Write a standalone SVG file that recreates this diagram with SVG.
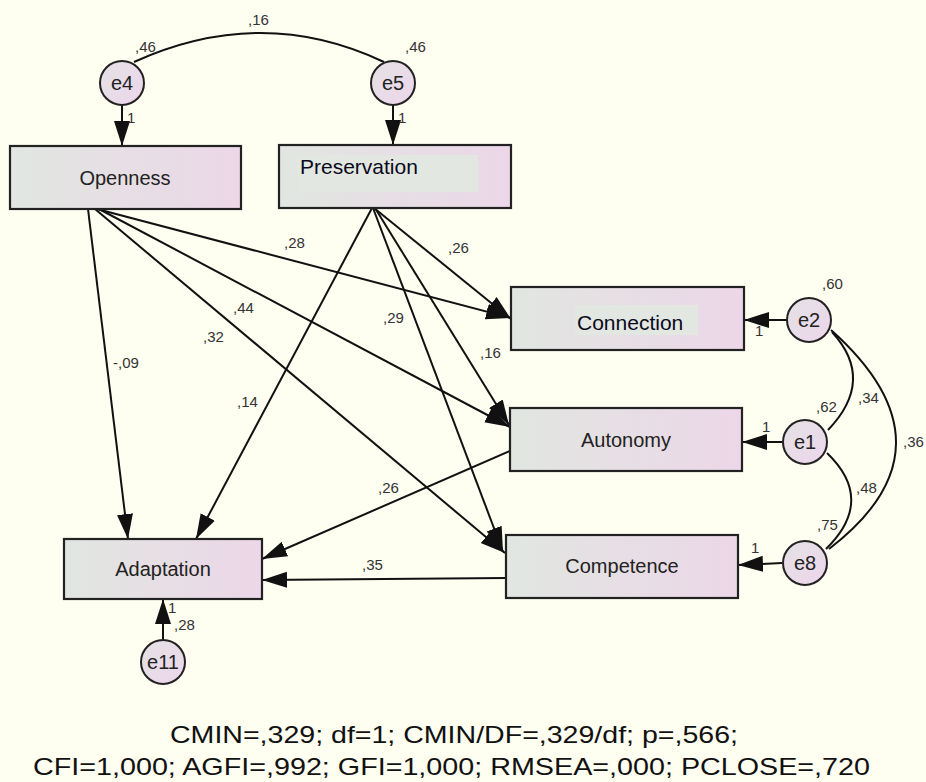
<svg xmlns="http://www.w3.org/2000/svg" width="926" height="782" viewBox="0 0 926 782">
<defs>
<linearGradient id="gBox" x1="0" y1="0" x2="1" y2="0">
<stop offset="0" stop-color="#E1E6E1"/>
<stop offset="1" stop-color="#ECD7E8"/>
</linearGradient>
<linearGradient id="gCirc" x1="0" y1="0" x2="1" y2="1">
<stop offset="0" stop-color="#E4E2E4"/>
<stop offset="1" stop-color="#EDD6EC"/>
</linearGradient>
<marker id="arr" markerUnits="userSpaceOnUse" markerWidth="26" markerHeight="18" refX="25" refY="9" orient="auto">
<path d="M0,1 L25,9 L0,17 z" fill="#111"/>
</marker>
</defs>
<style>
.box{fill:url(#gBox);stroke:#222;stroke-width:2.2}
.circ{fill:url(#gCirc);stroke:#222;stroke-width:2}
.lbl{font-family:"Liberation Sans",Arial,sans-serif;font-size:20px;fill:#222}
.dark{font-family:"Liberation Sans",Arial,sans-serif;font-size:21px;fill:#0a0a20}
.num{font-family:"Liberation Sans",Arial,sans-serif;font-size:15px;fill:#333}
.fit{font-family:"Liberation Sans",Arial,sans-serif;font-size:24px;fill:#111}
.ln{fill:none;stroke:#111;stroke-width:2}
.ar{fill:none;stroke:#111;stroke-width:2;marker-end:url(#arr)}
</style>
<rect x="0" y="0" width="926" height="782" fill="#FEFEF1"/>

<g id="connectors">
<path class="ln" d="M134,62 Q262,4 384,62"/>
<path class="ln" d="M832,332 Q876,380 828,430"/>
<path class="ln" d="M827,453 Q876,500 826,549"/>
<path class="ln" d="M831,330 Q962,447 829,549"/>
<path class="ar" d="M122,105 L122,146"/>
<path class="ar" d="M393,105 L393,145"/>
<path class="ar" d="M88,209 L128,539"/>
<path class="ar" d="M97,209 L511,318"/>
<path class="ar" d="M99,209 L510,427"/>
<path class="ar" d="M95,209 L505,553"/>
<path class="ar" d="M372,208 L196,539"/>
<path class="ar" d="M374,208 L511,319"/>
<path class="ar" d="M375,208 L509,425"/>
<path class="ar" d="M373,208 L503,552"/>
<path class="ar" d="M510,451 L262,559"/>
<path class="ar" d="M506,578 L262,580"/>
<path class="ar" d="M163,640 L163,599"/>
<path class="ar" d="M787,320 L744,320"/>
<path class="ar" d="M782,442 L742,442"/>
<path class="ar" d="M782,563 L738,565"/>
<text class="num" x="248" y="25">,16</text>
<text class="num" x="135" y="52">,46</text>
<text class="num" x="405" y="52">,46</text>
<text class="num" x="127" y="123">1</text>
<text class="num" x="398" y="123">1</text>
<text class="num" x="113" y="368">-,09</text>
<text class="num" x="284" y="248">,28</text>
<text class="num" x="233" y="313">,44</text>
<text class="num" x="203" y="342">,32</text>
<text class="num" x="237" y="407">,14</text>
<text class="num" x="448" y="253">,26</text>
<text class="num" x="480" y="358">,16</text>
<text class="num" x="383" y="323">,29</text>
<text class="num" x="378" y="493">,26</text>
<text class="num" x="362" y="570">,35</text>
<text class="num" x="168" y="613">1</text>
<text class="num" x="174" y="630">,28</text>
<text class="num" x="755" y="336">1</text>
<text class="num" x="762" y="432">1</text>
<text class="num" x="751" y="553">1</text>
<text class="num" x="822" y="289">,60</text>
<text class="num" x="816" y="412">,62</text>
<text class="num" x="858" y="403">,34</text>
<text class="num" x="856" y="493">,48</text>
<text class="num" x="817" y="530">,75</text>
<text class="num" x="903" y="447">,36</text>
</g>

<g id="e4"><circle class="circ" cx="122" cy="83" r="22"/><text class="lbl" x="122" y="90" text-anchor="middle">e4</text></g>
<g id="e5"><circle class="circ" cx="393" cy="83" r="22"/><text class="lbl" x="393" y="90" text-anchor="middle">e5</text></g>
<g id="e2"><circle class="circ" cx="809" cy="320" r="22"/><text class="lbl" x="809" y="327" text-anchor="middle">e2</text></g>
<g id="e1"><circle class="circ" cx="805" cy="442" r="22"/><text class="lbl" x="805" y="449" text-anchor="middle">e1</text></g>
<g id="e8"><circle class="circ" cx="805" cy="563" r="22"/><text class="lbl" x="805" y="570" text-anchor="middle">e8</text></g>
<g id="e11"><circle class="circ" cx="163" cy="662" r="22"/><text class="lbl" x="163" y="669" text-anchor="middle">e11</text></g>

<g id="openness"><rect class="box" x="10" y="146" width="231" height="63"/><text class="lbl" x="125" y="185" text-anchor="middle">Openness</text></g>
<g id="preservation"><rect class="box" x="279" y="145" width="232" height="63"/><rect x="298" y="155" width="180" height="37" fill="#E3E7E2"/><text class="dark" x="300" y="174">Preservation</text></g>
<g id="connection"><rect class="box" x="511" y="287" width="233" height="63"/><rect x="575" y="305" width="123" height="30" fill="#E3E7E2"/><text class="dark" x="577" y="330">Connection</text></g>
<g id="autonomy"><rect class="box" x="510" y="408" width="232" height="63"/><text class="lbl" x="626" y="447" text-anchor="middle">Autonomy</text></g>
<g id="competence"><rect class="box" x="506" y="535" width="232" height="63"/><text class="lbl" x="622" y="573" text-anchor="middle">Competence</text></g>
<g id="adaptation"><rect class="box" x="64" y="539" width="198" height="60"/><text class="lbl" x="163" y="576" text-anchor="middle">Adaptation</text></g>

<g id="fit">
<text class="fit" x="170" y="743" textLength="568" lengthAdjust="spacingAndGlyphs">CMIN=,329; df=1; CMIN/DF=,329/df; p=,566;</text>
<text class="fit" x="33" y="775" textLength="837" lengthAdjust="spacingAndGlyphs">CFI=1,000; AGFI=,992; GFI=1,000; RMSEA=,000; PCLOSE=,720</text>
</g>
</svg>
